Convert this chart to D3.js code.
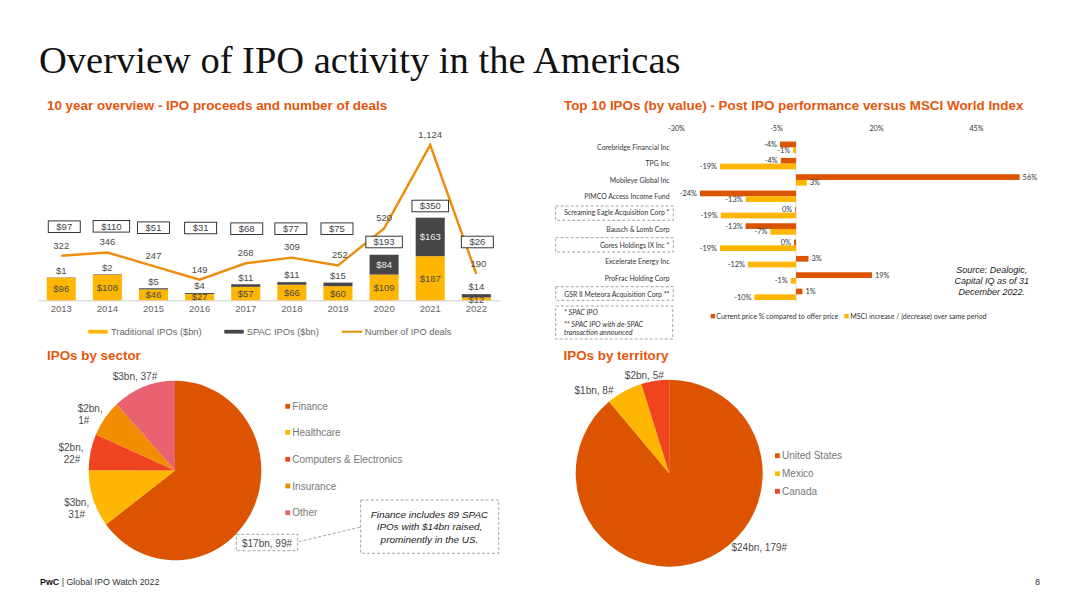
<!DOCTYPE html>
<html>
<head>
<meta charset="utf-8">
<title>Overview of IPO activity in the Americas</title>
<script src="https://cdn.jsdelivr.net/npm/d3@7"></script>
<style>
    body { margin: 0; background: #fff; }
    svg { display: block; font-family: "Liberation Sans", Arial, sans-serif; }
    .dashed { fill: none; stroke: #8a8a8a; stroke-width: 0.8; stroke-dasharray: 3 2; }
</style>
</head>
<body>
<div id="slide"></div>
<script>
// ---- data ----
const years = ["2013", "2014", "2015", "2016", "2017", "2018", "2019", "2020", "2021", "2022"];
const traditional = [96, 108, 46, 27, 57, 66, 60, 109, 187, 12];
const spac = [1, 2, 5, 4, 11, 11, 15, 84, 163, 14];
const deals = [322, 346, 247, 149, 268, 309, 252, 520, 1124, 190];
const totals = [97, 110, 51, 31, 68, 77, 75, 193, 350, 26];

const companies = ["Corebridge Financial Inc", "TPG Inc", "Mobileye Global Inc", "PIMCO Access Income Fund",
    "Screaming Eagle Acquisition Corp *", "Bausch & Lomb Corp", "Gores Holdings IX Inc *",
    "Excelerate Energy Inc", "ProFrac Holding Corp", "GSR II Meteora Acquisition Corp **"];
const priceChange = [-4, -3.8, 55.9, -24, -0.2, -12.6, -0.5, 3.1, 19, 1.6];
const msciChange = [-0.7, -19, 2.7, -12.6, -18.8, -6.4, -19, -12, -1.3, -10.4];
const priceLabels = ["-4%", "-4%", "56%", "-24%", "0%", "-13%", "0%", "3%", "19%", "1%"];
const msciLabels = ["-1%", "-19%", "3%", "-13%", "-19%", "-7%", "-19%", "-12%", "-1%", "-10%"];
const percentTicks = [-30, -5, 20, 45];

const sectors = ["Finance", "Healthcare", "Computers & Electronics", "Insurance", "Other"];
const sectorValues = [17.1, 2.72, 1.72, 1.75, 3.12];

const territories = ["United States", "Mexico", "Canada"];
const territoryValues = [24, 1.7, 1.3];

// ---- colours ----
const darkOrange = "#dd5400";
const yellow = "#ffb600";
const redOrange = "#ee4420";
const orange = "#f28c00";
const pink = "#e8636f";
const spacGrey = "#464646";
const lineOrange = "#ee8c0e";
const headingColor = "#e4560c";
const labelColor = "#4a4a4a";

const svg = d3.select("#slide").append("svg")
    .attr("width", 1080)
    .attr("height", 608);

function addText(x, y, str, opts = {}) {
    const t = svg.append("text")
        .attr("x", x)
        .attr("y", y)
        .attr("dy", "0.35em")
        .attr("text-anchor", opts.anchor || "start")
        .attr("font-size", opts.size || 10)
        .attr("font-weight", opts.weight || null)
        .attr("font-style", opts.italic ? "italic" : null)
        .attr("font-family", opts.family || null)
        .attr("fill", opts.color || labelColor)
        .text(str);
    // the table font on the slide is narrower than anything installed
    if (opts.squeeze) {
        t.attr("textLength", t.node().getComputedTextLength() * opts.squeeze)
            .attr("lengthAdjust", "spacingAndGlyphs");
    }
    return t;
}

// ---- titles ----
svg.append("text")
    .attr("x", 39)
    .attr("y", 72.5)
    .attr("font-family", "'Liberation Serif', serif")
    .attr("font-size", 38.5)
    .attr("fill", "#111")
    .text("Overview of IPO activity in the Americas");

addText(47, 105.5, "10 year overview - IPO proceeds and number of deals", {size: 13.4, weight: 700, color: headingColor});
addText(564, 105.5, "Top 10 IPOs (by value) - Post IPO performance versus MSCI World Index", {size: 13.4, weight: 700, color: headingColor});
addText(47, 355.5, "IPOs by sector", {size: 13.4, weight: 700, color: headingColor});
addText(563.5, 355.5, "IPOs by territory", {size: 13.4, weight: 700, color: headingColor});

// ---- stacked bars + deal line ----
const x = d3.scaleBand().domain(years).range([38.2, 499.4]).paddingInner(0.37).paddingOuter(0.185);
const yMoney = d3.scaleLinear().domain([0, 350]).range([300.3, 217.7]);
const yDeals = d3.scaleLinear().domain([0, 1124]).range([300.3, 145]);
const xMid = d => x(d) + x.bandwidth() / 2;

const xAxis = svg.append("g")
    .attr("transform", "translate(0,300.3)")
    .call(d3.axisBottom(x).tickSize(0).tickPadding(5));
xAxis.select(".domain").attr("stroke", "#d0d0d0");
xAxis.selectAll("text")
    .attr("font-family", "'Liberation Sans', Arial, sans-serif")
    .attr("font-size", 9.5)
    .attr("fill", "#666");

svg.append("g").selectAll("rect")
    .data(years)
    .join("rect")
    .attr("x", d => x(d))
    .attr("width", x.bandwidth())
    .attr("y", (d, i) => yMoney(traditional[i]))
    .attr("height", (d, i) => yMoney(0) - yMoney(traditional[i]))
    .attr("fill", yellow);

svg.append("g").selectAll("rect")
    .data(years)
    .join("rect")
    .attr("x", d => x(d))
    .attr("width", x.bandwidth())
    .attr("y", (d, i) => yMoney(traditional[i] + spac[i]))
    .attr("height", (d, i) => yMoney(0) - yMoney(spac[i]))
    .attr("fill", spacGrey);

years.forEach((d, i) => {
    const small = traditional[i] < 20;
    addText(xMid(d), (yMoney(traditional[i]) + yMoney(0)) / 2 + (small ? 0.5 : 0), "$" + traditional[i],
        {anchor: "middle", size: 9.5});
    if (spac[i] > 50) {
        addText(xMid(d), yMoney(traditional[i] + spac[i] / 2), "$" + spac[i], {anchor: "middle", size: 9.5, color: "#eee"});
    } else {
        addText(xMid(d), yMoney(traditional[i] + spac[i]) - 7, "$" + spac[i], {anchor: "middle", size: 9.5});
    }
});

const dealLine = d3.line()
    .x(d => xMid(d.year))
    .y(d => yDeals(d.value));

svg.append("path")
    .datum(years.map((year, i) => ({year: year, value: deals[i]})))
    .attr("d", dealLine)
    .attr("fill", "none")
    .attr("stroke", lineOrange)
    .attr("stroke-width", 2.4);

years.forEach((d, i) => {
    const label = d3.format(",")(deals[i]);
    addText(xMid(d) + (i === 6 || i === 9 ? 2 : 0), yDeals(deals[i]) - 10.5, label, {anchor: "middle", size: 9.5});
});

// boxes with the yearly totals are hand placed on the slide
const boxNudgeX = [3, 4, 0, 1, 1, -1, -1, 0, 0, 1];
const boxCentreY = [226.7, 226.3, 227.7, 228, 228.7, 228.7, 228.7, 242, 206, 242];
years.forEach((d, i) => {
    const w = totals[i] >= 100 ? 36.5 : 32;
    const cx = xMid(d) + boxNudgeX[i];
    svg.append("rect")
        .attr("x", cx - w / 2)
        .attr("y", boxCentreY[i] - 5.8)
        .attr("width", w)
        .attr("height", 11.6)
        .attr("fill", "#fff")
        .attr("stroke", "#222")
        .attr("stroke-width", 0.9);
    addText(cx, boxCentreY[i], "$" + totals[i], {anchor: "middle", size: 9.5, color: "#444"});
});

// legend under the bars
svg.append("rect").attr("x", 88.3).attr("y", 329.8).attr("width", 19.4).attr("height", 3.8).attr("fill", yellow);
addText(111, 331.7, "Traditional IPOs ($bn)", {size: 9.3, color: "#666"});
svg.append("rect").attr("x", 224.3).attr("y", 329.8).attr("width", 19.4).attr("height", 3.8).attr("fill", spacGrey);
addText(246.7, 331.7, "SPAC IPOs ($bn)", {size: 9.3, color: "#666"});
svg.append("line").attr("x1", 341.7).attr("x2", 362.3).attr("y1", 331.7).attr("y2", 331.7)
    .attr("stroke", lineOrange).attr("stroke-width", 2);
addText(364.7, 331.7, "Number of IPO deals", {size: 9.3, color: "#666"});

// ---- top 10 IPOs ----
const barFont = "Lato, 'Open Sans', sans-serif";
const xPct = d3.scaleLinear().domain([-30, 45]).range([676, 976]);
const yRow = d3.scaleBand().domain(companies).range([139.1, 302.5]).paddingInner(0.3).paddingOuter(0.15);
const barH = yRow.bandwidth() / 2;

const pctAxis = svg.append("g")
    .attr("transform", "translate(0,128)")
    .call(d3.axisTop(xPct).tickValues(percentTicks).tickSize(0).tickPadding(-3).tickFormat(d => d + "%"));
pctAxis.select(".domain").remove();
pctAxis.selectAll("text")
    .attr("font-family", barFont)
    .attr("font-size", 7.2)
    .attr("fill", "#333");

svg.append("line")
    .attr("x1", xPct(0)).attr("x2", xPct(0))
    .attr("y1", 139.5).attr("y2", 302)
    .attr("stroke", "#d4d4d4")
    .attr("stroke-width", 0.8);

const drawHBars = (values, labels, color, offset) => {
    svg.append("g").selectAll("rect")
        .data(companies)
        .join("rect")
        .attr("x", (d, i) => Math.min(xPct(0), xPct(values[i])))
        .attr("width", (d, i) => Math.abs(xPct(values[i]) - xPct(0)))
        .attr("y", d => yRow(d) + offset)
        .attr("height", barH)
        .attr("fill", color);
    companies.forEach((d, i) => {
        const neg = values[i] < 0;
        addText(xPct(values[i]) + (neg ? -3 : 3), yRow(d) + offset + barH / 2, labels[i],
            {anchor: neg ? "end" : "start", size: 7.4, family: barFont, color: "#333"});
    });
};
drawHBars(priceChange, priceLabels, darkOrange, 0);
drawHBars(msciChange, msciLabels, yellow, barH);

companies.forEach(d => {
    addText(669.5, yRow(d) + yRow.bandwidth() / 2, d, {anchor: "end", size: 7.8, family: barFont, color: "#333", squeeze: 0.88});
});

[[555.7, 206, 117.6, 14.3], [555.7, 237.7, 117.6, 14.3], [555.7, 286.7, 117.6, 13.6], [555.7, 306, 117, 33]].forEach(b => {
    svg.append("rect").attr("class", "dashed")
        .attr("x", b[0]).attr("y", b[1]).attr("width", b[2]).attr("height", b[3]);
});
addText(564, 312.7, "* SPAC IPO", {size: 7.2, italic: true, family: barFont, color: "#333"});
addText(564, 324.3, "** SPAC IPO with de-SPAC", {size: 7.2, italic: true, family: barFont, color: "#333"});
addText(564, 332.3, "transaction announced", {size: 7.2, italic: true, family: barFont, color: "#333"});

svg.append("rect").attr("x", 710.7).attr("y", 314).attr("width", 4.4).attr("height", 4.4).attr("fill", darkOrange);
addText(716.3, 316.3, "Current price % compared to offer price", {size: 7.8, family: barFont, color: "#333", squeeze: 0.9});
svg.append("rect").attr("x", 844.3).attr("y", 314).attr("width", 4.4).attr("height", 4.4).attr("fill", yellow);
addText(850.3, 316.3, "MSCI increase / (decrease) over same period", {size: 7.8, family: barFont, color: "#333", squeeze: 0.9});

addText(991.7, 270.3, "Source: Dealogic,", {anchor: "middle", size: 9, italic: true, color: "#222"});
addText(991.7, 281, "Capital IQ as of 31", {anchor: "middle", size: 9, italic: true, color: "#222"});
addText(991.7, 291.7, "December 2022.", {anchor: "middle", size: 9, italic: true, color: "#222"});

// ---- pies ----
const pie = d3.pie().sort(null);

function drawPie(values, colors, cx, cy, rx, ry) {
    const arc = d3.arc().innerRadius(0).outerRadius(rx);
    svg.append("g")
        .attr("transform", `translate(${cx},${cy}) scale(1,${ry / rx})`)
        .selectAll("path")
        .data(pie(values))
        .join("path")
        .attr("d", arc)
        .attr("fill", (d, i) => colors[i]);
}

function drawPieLegend(names, colors, swatchX, rows) {
    names.forEach((name, i) => {
        svg.append("rect")
            .attr("x", swatchX).attr("y", rows[i] - 2.4)
            .attr("width", 4.8).attr("height", 4.8)
            .attr("fill", colors[i]);
        addText(swatchX + 7, rows[i], name, {size: 10, color: "#777"});
    });
}

const sectorColors = [darkOrange, yellow, redOrange, orange, pink];
drawPie(sectorValues, sectorColors, 175, 470.5, 86.3, 89.8);
drawPieLegend(sectors, sectorColors, 285.3, [406.3, 432.3, 459.3, 486, 512.7]);

addText(135, 376, "$3bn, 37#", {anchor: "middle", size: 10});
addText(77.7, 408.3, "$2bn,", {size: 10});
addText(78.3, 420.3, "1#", {size: 10});
addText(71, 447, "$2bn,", {anchor: "middle", size: 10});
addText(72, 459, "22#", {anchor: "middle", size: 10});
addText(76.7, 502.3, "$3bn,", {anchor: "middle", size: 10});
addText(76.7, 514.7, "31#", {anchor: "middle", size: 10});

svg.append("rect").attr("class", "dashed").attr("x", 236.3).attr("y", 534.3).attr("width", 61.4).attr("height", 16.4);
addText(267, 543, "$17bn, 99#", {anchor: "middle", size: 10});
svg.append("line").attr("class", "dashed").attr("x1", 298.7).attr("y1", 541.7).attr("x2", 360.7).attr("y2", 527);
svg.append("rect").attr("class", "dashed").attr("x", 360.7).attr("y", 500).attr("width", 138).attr("height", 53.3);
addText(429.5, 514.7, "Finance includes 89 SPAC", {anchor: "middle", size: 9.95, italic: true, color: "#222"});
addText(429.5, 527, "IPOs with $14bn raised,", {anchor: "middle", size: 9.95, italic: true, color: "#222"});
addText(429.5, 539.3, "prominently in the US.", {anchor: "middle", size: 9.95, italic: true, color: "#222"});

const territoryColors = [darkOrange, yellow, redOrange];
drawPie(territoryValues, territoryColors, 669.2, 473.2, 93.5, 93.5);
drawPieLegend(territories, territoryColors, 775, [455.7, 473.7, 491.3]);

addText(644.3, 375.7, "$2bn, 5#", {anchor: "middle", size: 10});
addText(594, 390.7, "$1bn, 8#", {anchor: "middle", size: 10});
addText(759.3, 547, "$24bn, 179#", {anchor: "middle", size: 10});

// ---- footer ----
const footer = addText(40, 582, "", {size: 8.9, color: "#333"});
footer.append("tspan").attr("font-weight", 700).attr("fill", "#111").text("PwC");
footer.append("tspan").text(" | Global IPO Watch 2022");
addText(1040, 582, "8", {anchor: "end", size: 8.9, color: "#333"});
</script>
</body>
</html>
